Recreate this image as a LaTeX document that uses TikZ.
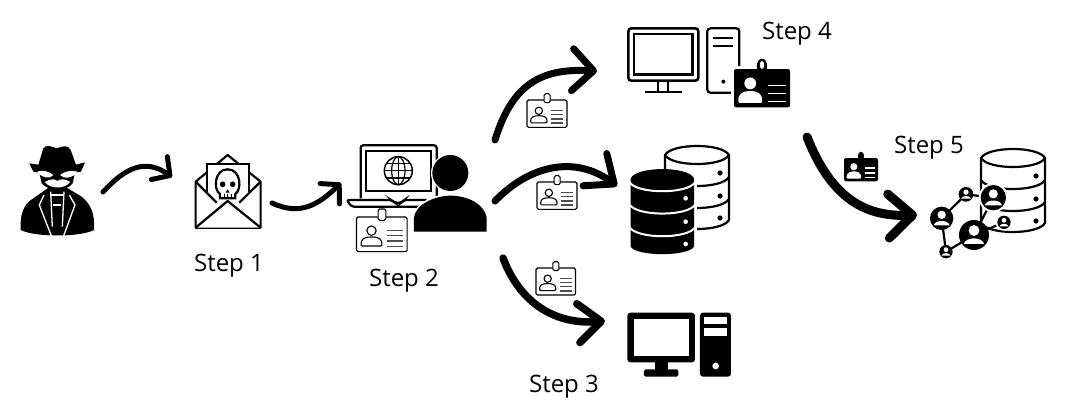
\documentclass[tikz,border=0pt]{standalone}
\usepackage{fontspec}
\setmainfont{Open Sans}
\usetikzlibrary{arrows.meta}
\tikzset{
 steplabel/.style={font=\fontsize{24}{27}\selectfont,inner sep=0pt,text=black},
 flow/.style={line width=#1,line cap=round,black},
 thin1/.style={line width=1.1pt,black},
 med/.style={line width=2.2pt,black},
}
\newcommand\idcardW[3]{\begin{scope}[shift={(#1,#2)},scale=#3]
 \draw[thin1,rounded corners=1.5pt,fill=white] (0,0) rectangle (152,104);
 \draw[thin1,fill=white,rounded corners=1.5pt] (65,-24) rectangle (88,10);
 \draw[thin1] (45,41) circle[radius=14];
 \draw[thin1,rounded corners=1pt] (14,87) -- (14,76) .. controls (18,62) and (34,60) .. (45,60) .. controls (56,60) and (72,62) .. (76,76) -- (76,87) -- cycle;
 \foreach \yy in {40,56,72,88} \draw[thin1,black!70,line width=1.3pt] (92,\yy) -- (138,\yy);
\end{scope}}
\newcommand\idcardB[3]{\begin{scope}[shift={(#1,#2)},scale=#3]
 \fill[black,rounded corners=2pt] (0,0) rectangle (152,104);
 \fill[black] (76,-8) ellipse[x radius=14,y radius=20];
 \fill[white] (44,39) circle[radius=16];
 \fill[white,rounded corners=1pt] (12,92) -- (12,78) .. controls (18,62) and (32,60) .. (44,60) .. controls (56,60) and (70,62) .. (76,78) -- (76,92) -- cycle;
 \foreach \yy in {45,66,88} \draw[white,line width=1.6pt] (92,\yy) -- (140,\yy);
\end{scope}}
\newcommand\dbwhite[2]{\begin{scope}[shift={(#1,#2)}]
 \draw[med,fill=white] (-32,0) -- (-32,65) .. controls (-25,77) and (25,77) .. (32,65) -- (32,0) .. controls (25,-12) and (-25,-12) .. (-32,0) -- cycle;
 \draw[med] (-32,0) .. controls (-25,12) and (25,12) .. (32,0);
 \draw[med] (-32,22) .. controls (-25,34) and (25,34) .. (32,22);
 \draw[med] (-32,44) .. controls (-25,56) and (25,56) .. (32,44);
 \foreach \yy in {18,41,63} \fill (23,\yy) circle[radius=2.6];
\end{scope}}
\newcommand\netnode[3]{\fill[black] (#1,#2) circle[radius=#3];
 \fill[white] (#1,#2-#3*0.3) circle[radius=#3*0.36];
 \fill[white] (#1-#3*0.68,#2+#3*0.6) .. controls (#1-#3*0.55,#2+#3*0.1) and (#1+#3*0.55,#2+#3*0.1) .. (#1+#3*0.68,#2+#3*0.6) -- cycle;}
\begin{document}
\begin{tikzpicture}[x=1pt,y=-1pt]
\useasboundingbox (0,0) rectangle (1081,410);
\fill[white] (0,0) rectangle (1081,410);

% ---- spy
\begin{scope}[shift={(0,130)},scale=0.3333]
 \fill (62,300) .. controls (60,255) and (68,225) .. (100,205) -- (150,170) -- (195,170) -- (245,200) .. controls (275,225) and (285,255) .. (282,300) .. controls (240,322) and (105,322) .. (62,300) -- cycle;
 \fill (88,100) -- (115,104) -- (130,55) .. controls (140,42) and (155,50) .. (170,55) .. controls (185,50) and (205,42) .. (212,60) -- (228,104) -- (255,97) -- (243,125) -- (225,128) -- (218,160) .. controls (200,185) and (145,185) .. (125,160) -- (118,128) -- (100,125) -- cycle;
 \fill[white] (112,125) .. controls (125,120) and (145,122) .. (160,135) .. controls (150,148) and (125,145) .. (112,125) -- cycle;
 \fill[white] (232,125) .. controls (220,120) and (195,122) .. (180,135) .. controls (190,148) and (220,145) .. (232,125) -- cycle;
 \fill[white] (135,156) .. controls (150,146) and (165,146) .. (172,153) .. controls (180,146) and (195,146) .. (210,156) .. controls (195,178) and (150,178) .. (135,156) -- cycle;
 \draw[white,line width=1.3pt] (155,320) -- (118,225) -- (132,195);
 \draw[white,line width=1.3pt] (190,320) -- (225,225) -- (208,195);
 \draw[white,line width=1.3pt] (152,185) -- (157,290);
 \draw[white,line width=1.3pt] (192,185) -- (187,290);
 \draw[white,line width=1.1pt] (152,195) -- (192,195) (160,225) -- (182,225);
\end{scope}

% ---- envelope
\begin{scope}[shift={(0,130)},scale=0.3333]
 \draw[med,line join=round] (587,155) -- (683,75) -- (782,155) -- (782,293) -- (587,293) -- cycle;
 \draw[med,fill=white] (620,185) -- (620,103) -- (748,103) -- (748,185);
 \draw[med] (587,155) -- (650,218) (782,155) -- (718,218);
 \draw[med,fill=white,line join=round] (587,293) -- (683,213) -- (782,293);
 % skull
 \draw[med,fill=white] (660,192) .. controls (640,180) and (642,118) .. (683,118) .. controls (724,118) and (726,180) .. (706,192) -- (706,205) -- (660,205) -- cycle;
 \fill (668,163) circle[radius=8.5];
 \fill (698,163) circle[radius=8.5];
 \fill (683,178) -- (677,188) -- (689,188) -- cycle;
 \draw[line width=.9pt] (672,193) -- (672,205) (683,193) -- (683,205) (694,193) -- (694,205);
\end{scope}

% ---- laptop + person + card
\begin{scope}[shift={(340,130)},scale=0.3333]
 \draw[med,rounded corners=2.5pt] (62,205) -- (62,46) -- (290,46) -- (290,205);
 \draw[med] (78,63) rectangle (274,182);
 \draw[thin1,line width=1.5pt] (175,122) circle[radius=42];
 \draw[thin1,line width=1.2pt] (175,122) ellipse[x radius=20,y radius=42];
 \draw[thin1,line width=1.2pt] (175,80) -- (175,164) (133,122) -- (217,122) (140,100) -- (210,100) (140,144) -- (210,144);
 \draw[med,rounded corners=2.5pt] (260,230) -- (35,230) -- (20,210) -- (155,210) -- (163,218) -- (185,218) -- (192,210) -- (260,210);
 \fill[white] (331,129) circle[radius=58];
 \fill (331,129) circle[radius=54];
 \fill[white] (218,305) -- (218,262) .. controls (225,215) and (290,190) .. (331,193) .. controls (380,190) and (435,215) .. (444,262) -- (444,305) -- cycle;
 \fill (222,305) -- (222,262) .. controls (228,220) and (290,197) .. (331,197) .. controls (380,197) and (432,220) .. (440,262) -- (440,305) -- cycle;
\end{scope}
\idcardW{356.5}{217}{0.3333}

% ---- monitor + tower + black card (step 4)
\begin{scope}[shift={(610,10)},scale=0.3333]
 \draw[med,line width=2.6pt,rounded corners=3pt] (55,55) rectangle (265,212);
 \draw[med,line width=2.4pt] (72,72) rectangle (247,193);
 \draw[med] (145,212) -- (145,247) (175,212) -- (175,247);
 \draw[med] (105,247) -- (215,247);
 \draw[med,rounded corners=3pt] (292,55) rectangle (388,248);
 \draw[med] (310,85) -- (368,85) (310,108) -- (368,108);
 \fill (340,215) circle[radius=6];
 \fill[white] (362,168) rectangle (550,303);
 \fill[white] (455,168) ellipse[x radius=20,y radius=22];
\end{scope}
\idcardB{734}{69}{0.3684}
\fill[white] (762,65) ellipse[x radius=2.2,y radius=4];

% ---- databases
\dbwhite{697}{155}
\begin{scope}[shift={(620,135)},scale=0.3333]
 \fill[white] (24,130) rectangle (230,362);
 \fill (32,130) -- (32,335) .. controls (50,365) and (205,365) .. (222,335) -- (222,130) .. controls (205,93) and (50,93) .. (32,130) -- cycle;
 \draw[white,line width=2pt] (28,141) .. controls (50,178) and (205,178) .. (226,141);
 \draw[white,line width=2pt] (28,208) .. controls (50,245) and (205,245) .. (226,208);
 \draw[white,line width=2pt] (28,276) .. controls (50,313) and (205,313) .. (226,276);
 \foreach \yy in {190,260,327} \fill[white] (197,\yy) circle[radius=7];
\end{scope}

% ---- computer (step 3)
\begin{scope}[shift={(500,250)},scale=0.3333]
 \fill[rounded corners=3pt] (382,188) rectangle (585,337);
 \fill[white] (402,208) rectangle (566,318);
 \fill (465,337) rectangle (505,360);
 \fill[rounded corners=1.5pt] (432,358) rectangle (535,380);
 \fill[rounded corners=3pt] (600,188) rectangle (693,380);
 \fill[white] (612,202) rectangle (682,222);
 \fill[white] (612,235) rectangle (682,257);
 \fill[white] (647,348) circle[radius=10];
\end{scope}

% ---- network + db (step 5)
\dbwhite{1013}{158}
\begin{scope}[shift={(800,125)},scale=0.3333]
 \draw[line width=2.2pt] (425,280) -- (498,208) -- (580,218) -- (522,330) -- (612,292) (425,280) -- (438,380) -- (522,330);
 \fill[white] (580,218) circle[radius=44];
 \fill[white] (612,292) circle[radius=25];
 \netnode{425}{280}{35}
 \netnode{522}{330}{45}
 \netnode{580}{218}{38}
 \netnode{498}{208}{22}
 \netnode{612}{292}{20}
 \netnode{438}{380}{20}
\end{scope}
\idcardB{844}{158}{0.2237}

% ---- arrows
\coordinate (s1) at (103,192); \coordinate (e1) at (172,177);
\coordinate (s2) at (272,203); \coordinate (e2) at (341,183);
\coordinate (s3) at (495,140); \coordinate (e3) at (597,71);
\coordinate (s4) at (495,201); \coordinate (e4) at (617,186);
\coordinate (s5) at (503,258); \coordinate (e5) at (605,321);
\coordinate (s6) at (807,137); \coordinate (e6) at (917,215);
\draw[flow=5pt,-{Straight Barb[length=13pt,width=28pt,line width=5pt,round]}] (s1) .. controls (125,168) and (145,158) .. (e1);
\draw[flow=5pt,-{Straight Barb[length=13pt,width=28pt,line width=5pt,round]}] (s2) .. controls (300,216) and (318,205) .. (e2);
\draw[flow=7pt,-{Straight Barb[length=21pt,width=42pt,line width=7pt,round]}] (s3) .. controls (512,85) and (540,68) .. (e3);
\draw[flow=7pt,-{Straight Barb[length=24pt,width=40pt,line width=7pt,round]}] (s4) .. controls (530,165) and (575,155) .. (e4);
\draw[flow=7.5pt,-{Straight Barb[length=23pt,width=39pt,line width=7.5pt,round]}] (s5) .. controls (520,303) and (555,325) .. (e5);
\draw[flow=9pt,-{Straight Barb[length=24pt,width=44pt,line width=9pt,round]}] (s6) .. controls (830,195) and (862,217) .. (e6);

\idcardW{527}{100}{0.263}
\idcardW{537}{182}{0.263}
\idcardW{536}{268}{0.26}

% ---- labels
\node[steplabel] (l1) at (229,266) {Step 1};
\node[steplabel] (l2) at (404,281) {Step 2};
\node[steplabel] (l3) at (564,387) {Step 3};
\node[steplabel] (l4) at (797,34) {Step 4};
\node[steplabel] (l5) at (929,148) {Step 5};
\end{tikzpicture}
\end{document}
